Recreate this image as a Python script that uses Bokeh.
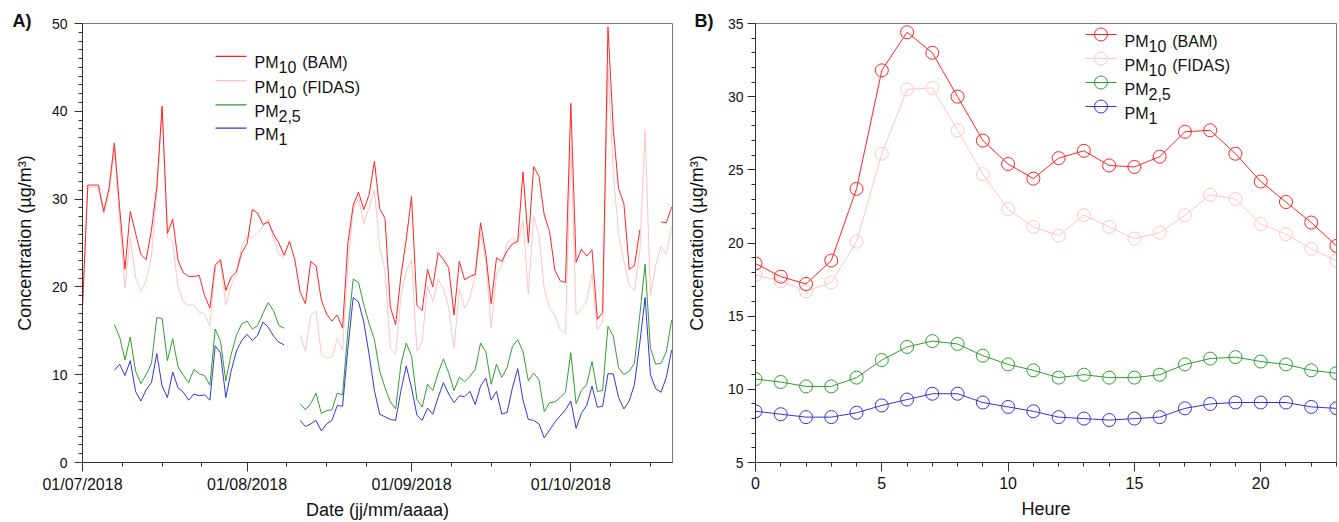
import numpy as np
import pandas as pd
from bokeh.plotting import figure
from bokeh.layouts import row
from bokeh.models import FixedTicker, Label, Range1d, Title
from bokeh.embed import file_html
from bokeh.resources import INLINE

# ---------------------------------------------------------------
# A) daily mean concentrations, 01/07/2018 - 20/10/2018 (None = no data)
# ---------------------------------------------------------------
dates = pd.date_range("2018-07-01", "2018-10-20", freq="D")

pm10_bam = [
    17.7, 31.6, 31.6, 31.6, 28.6, 31.2, 36.4, 29.0, 22.0, 28.6,
    26.1, 23.7, 23.1, 26.5, 31.4, 40.6, 26.1, 27.7, 23.0, 21.6,
    21.2, 21.2, 21.3, 19.0, 17.6, 22.5, 23.1, 19.6, 21.1, 21.7,
    23.9, 24.9, 28.8, 28.4, 27.1, 27.4, 26.0, 25.0, 23.6, 25.2,
    23.1, 19.4, 18.1, 22.9, 22.4, 18.5, 16.9, 16.1, 16.8, 15.3,
    25.0, 29.3, 30.8, 28.8, 30.5, 34.3, 28.9, 27.8, 17.7, 15.7,
    21.3, 25.4, 30.3, 17.9, 17.3, 22.0, 20.0, 23.9, 23.1, 22.2,
    16.8, 22.9, 20.8, 21.2, 21.4, 27.3, 23.7, 18.1, 23.3, 22.9,
    24.1, 24.9, 25.2, 33.1, 25.0, 33.7, 32.6, 28.2, 26.3, 21.9,
    20.7, 20.5, 40.9, 22.8, 24.3, 23.5, 24.2, 16.3, 17.1, 49.6,
    38.0, 31.2, 29.5, 22.0, 22.4, 26.5, None, None, None, 27.4,
    27.3, 29.1,
]
pm10_fidas = [
    17.4, 31.3, 31.4, 31.3, 28.3, 30.8, 35.8, 27.5, 19.9, 25.6,
    21.1, 19.5, 20.7, 23.5, 31.0, 40.1, 25.6, 25.0, 20.0, 18.3,
    17.9, 18.0, 17.1, 17.0, 15.5, 22.2, 22.9, 17.9, 20.2, 21.5,
    24.7, 25.8, 25.6, 26.1, 26.9, 27.7, 25.4, 23.7, 23.3, None,
    None, 14.5, 12.7, 16.8, 17.3, 12.3, 11.9, 12.0, 14.1, 12.8,
    22.5, 28.8, 30.1, 27.2, 29.0, 31.0, 24.6, 21.8, 13.0, 12.3,
    19.0, 21.8, 23.1, 12.7, 13.8, 20.1, 18.3, 20.9, 19.8, 17.6,
    13.0, 19.8, 17.6, 18.8, 21.3, 26.1, 22.8, 15.3, 21.5, 22.4,
    25.0, 25.6, 25.0, 27.5, 19.2, 28.0, 25.8, 19.8, 17.6, 16.8,
    15.1, 14.7, 36.0, 16.8, 17.5, 18.4, 21.5, 15.1, 16.0, 45.0,
    33.0, 26.0, 23.0, 20.2, 19.6, 24.0, 37.8, 19.0, 22.4, 24.6,
    23.7, 26.9,
]
pm25 = [
    None, None, None, None, None, None, 15.7, 14.3, 11.7, 14.3,
    10.4, 9.0, 10.0, 11.3, 16.5, 16.4, 11.6, 14.1, 10.9, 9.9,
    9.1, 10.6, 10.1, 9.9, 8.8, 15.2, 13.8, 9.3, 12.3, 14.5,
    15.8, 16.1, 15.2, 15.6, 17.0, 18.2, 17.3, 15.6, 15.3, None,
    None, 6.7, 6.0, 6.7, 7.9, 5.6, 5.9, 6.0, 7.9, 7.7,
    15.0, 20.9, 20.5, 18.0, 15.8, 14.0, 10.4, 8.5, 6.9, 6.1,
    11.2, 13.6, 12.1, 7.2, 6.3, 8.9, 8.2, 10.2, 11.8, 10.2,
    8.2, 9.7, 9.2, 9.8, 10.6, 13.6, 12.6, 8.9, 11.2, 9.7,
    10.8, 13.2, 14.0, 12.6, 9.3, 10.2, 9.4, 5.8, 6.8, 6.9,
    7.4, 8.0, 12.5, 6.7, 8.2, 8.9, 11.5, 8.1, 8.2, 15.5,
    14.4, 10.8, 10.0, 10.4, 11.3, 16.8, 22.6, 13.0, 11.2, 11.3,
    12.6, 16.2,
]
pm1 = [
    None, None, None, None, None, None, 10.5, 11.2, 9.9, 11.6,
    8.1, 7.0, 8.3, 9.1, 12.4, 8.7, 7.4, 10.3, 8.5, 8.0,
    7.1, 7.8, 7.6, 7.7, 7.1, 13.3, 12.5, 7.4, 10.4, 12.7,
    13.9, 14.6, 13.9, 14.5, 16.0, 15.4, 14.4, 13.7, 13.4, None,
    None, 4.8, 4.1, 4.4, 4.8, 3.6, 4.4, 4.8, 6.5, 6.4,
    13.0, 18.8, 18.3, 16.0, 12.3, 8.2, 5.5, 5.2, 4.9, 4.8,
    8.2, 11.0, 8.5, 5.4, 4.8, 6.2, 5.5, 7.4, 9.1, 7.8,
    6.8, 7.6, 7.5, 8.1, 6.6, 8.7, 9.6, 7.1, 8.1, 5.5,
    5.7, 8.5, 10.7, 7.1, 4.9, 4.8, 4.4, 2.8, 3.7, 4.6,
    5.3, 6.0, 7.0, 3.9, 5.6, 6.5, 8.7, 6.3, 6.4, 10.1,
    10.1, 7.4, 6.1, 7.0, 8.9, 13.6, 18.8, 10.0, 8.4, 8.0,
    9.7, 12.8,
]
month_starts = ["2018-07-01", "2018-08-01", "2018-09-01", "2018-10-01"]
month_labels = ["01/07/2018", "01/08/2018", "01/09/2018", "01/10/2018"]

# ---------------------------------------------------------------
# B) mean daily profile (hour of day)
# ---------------------------------------------------------------
hours = list(range(24))
prof_bam = [18.6, 17.7, 17.2, 18.8, 23.7, 31.8, 34.4, 33.0, 30.0, 27.0, 25.4, 24.4,
            25.8, 26.3, 25.3, 25.2, 25.9, 27.6, 27.7, 26.1, 24.2, 22.8, 21.4, 19.8]
prof_fidas = [17.8, 17.4, 16.7, 17.3, 20.1, 26.1, 30.5, 30.6, 27.7, 24.7, 22.3, 21.1,
              20.5, 21.9, 21.1, 20.3, 20.7, 21.9, 23.3, 23.0, 21.3, 20.6, 19.6, 18.8]
prof_pm25 = [10.7, 10.5, 10.2, 10.2, 10.8, 12.0, 12.9, 13.3, 13.1, 12.3, 11.7, 11.3,
             10.8, 11.0, 10.8, 10.8, 11.0, 11.7, 12.1, 12.2, 11.9, 11.7, 11.3, 11.1]
prof_pm1 = [8.5, 8.3, 8.1, 8.1, 8.4, 8.9, 9.3, 9.7, 9.7, 9.1, 8.8, 8.5,
            8.1, 8.0, 7.9, 8.0, 8.1, 8.7, 9.0, 9.1, 9.1, 9.1, 8.8, 8.7]

# ---------------------------------------------------------------
# styling
# ---------------------------------------------------------------
FONT = "Liberation Sans"
C_BAM, C_FIDAS, C_PM25, C_PM1 = "#ff2424", "#ffc4c4", "#2ea02e", "#3434dc"
AXIS_C = "#303030"
FRAME_C = "#7a7a7a"
H = 522

# A frame (canvas pixels)
A_W, A_L, A_R, A_T, A_B = 680, 82, 672, 21, 466
A_PX_DAY = (570.3 - 82) / 92.0
A_X1 = (A_R - A_L) / A_PX_DAY
A_PX_UNIT = (A_B - A_T) / 50.0

# B frame (canvas pixels, relative to figure B)
B_W = 1339 - A_W
B_L, B_R, B_T, B_B = 755 - A_W, 1336 - A_W, 23, 462
B_PX_H = (B_R - B_L) / 23.0
B_PX_UNIT = (B_B - B_T) / 30.0


def a_data(sx, sy):
    return (sx - A_L) / A_PX_DAY, (A_B - sy) / A_PX_UNIT


def b_data(sx, sy):
    return (sx - B_L) / B_PX_H, 35 - (sy - B_T) / B_PX_UNIT


ARIAL = {"P": .667, "M": .833, ",": .278, " ": .278}


def text_w(s, size):
    return sum(ARIAL.get(c, .556) for c in s) * size


def style_axes(p, xfont, yfont):
    for ax in (p.xaxis[0], p.yaxis[0]):
        ax.axis_line_color = AXIS_C
        ax.major_tick_line_color = AXIS_C
        ax.minor_tick_line_color = AXIS_C
        ax.major_tick_in = 0
        ax.major_tick_out = 8
        ax.minor_tick_in = 0
        ax.minor_tick_out = 4
        ax.major_label_text_font = FONT
        ax.major_label_text_color = "#111111"
        ax.axis_label_text_font = FONT
        ax.axis_label_text_font_size = "18px"
        ax.axis_label_text_font_style = "normal"
        ax.axis_label_text_color = "#111111"
    p.xaxis.major_label_text_font_size = xfont
    p.yaxis.major_label_text_font_size = yfont
    p.xaxis.major_tick_out = 9
    p.xgrid.visible = False
    p.ygrid.visible = False
    p.outline_line_color = FRAME_C
    p.outline_line_width = 1


def panel_tag(text, frame_left, x_left):
    # bold panel letter drawn in the title slot, shifted left over the axis area
    return Title(text=text, align="left", offset=x_left - frame_left, standoff=-15,
                 vertical_align="bottom", text_font=FONT, text_font_size="18px",
                 text_font_style="bold", text_color="#111111")


def legend_entry(p, conv, x_line0, x_line1, x_text, y, color, parts, marker=False):
    (x0, yd), (x1, _) = conv(x_line0, y), conv(x_line1, y)
    p.segment(x0=[x0], y0=[yd], x1=[x1], y1=[yd], line_color=color, line_width=1.2)
    if marker:
        xm, _ = conv((x_line0 + x_line1) / 2, y)
        p.scatter([xm], [yd], marker="circle", size=13, fill_color=None,
                  line_color=color, line_width=1)
    main, sub, tail = parts
    size = 16
    base = y + 6.7
    xs = x_text
    for txt, dy in ((main, 0), (sub, 4.5), (tail, 0)):
        if not txt:
            continue
        lx, ly = conv(xs, base + dy)
        p.add_layout(Label(x=lx, y=ly, text=txt, text_font=FONT,
                           text_font_size=f"{size}px", text_color="#111111",
                           text_align="left", text_baseline="alphabetic"))
        xs += text_w(txt, size) + (text_w(" ", size) + 1.5 if txt == sub else 0)


legend_parts = [("PM", "10", "(BAM)"), ("PM", "10", "(FIDAS)"),
                ("PM", "2,5", ""), ("PM", "1", "")]
colors = [C_BAM, C_FIDAS, C_PM25, C_PM1]

# ---------------------------------------------------------------
# Panel A
# ---------------------------------------------------------------
day = np.asarray((dates - dates[0]).days, dtype=float)
tick_days = [(pd.Timestamp(m) - dates[0]).days for m in month_starts]
minor_days = [t + k * 7.5 for t in tick_days for k in (1, 2, 3) if t + k * 7.5 <= A_X1]

pa = figure(width=A_W, height=H, output_backend="svg", toolbar_location=None,
            x_range=Range1d(0, A_X1), y_range=Range1d(0, 50),
            min_border_left=A_L, min_border_right=A_W - A_R,
            min_border_top=A_T, min_border_bottom=H - A_B)
pa.title = panel_tag("A)", A_L, 12)
style_axes(pa, "16px", "14px")
pa.xaxis.ticker = FixedTicker(ticks=tick_days, minor_ticks=minor_days)
pa.xaxis.major_label_overrides = {t: lab for t, lab in zip(tick_days, month_labels)}
pa.yaxis.ticker = FixedTicker(ticks=list(range(0, 51, 10)), minor_ticks=list(range(0, 51)))
pa.xaxis.axis_label = "Date (jj/mm/aaaa)"
pa.yaxis.axis_label = "Concentration (µg/m³)"
pa.xaxis.major_label_standoff = 4
pa.xaxis.axis_label_standoff = 4
pa.yaxis.major_label_standoff = 7
pa.yaxis.axis_label_standoff = 14

for series, col in ((pm10_fidas, C_FIDAS), (pm10_bam, C_BAM), (pm25, C_PM25), (pm1, C_PM1)):
    pa.line(day, np.array(series, dtype=float), line_color=col, line_width=1)

for i, (parts, col) in enumerate(zip(legend_parts, colors)):
    legend_entry(pa, a_data, 215, 246, 254, [54.3, 79.0, 103.5, 127.0][i], col, parts)

# ---------------------------------------------------------------
# Panel B
# ---------------------------------------------------------------
pb = figure(width=B_W, height=H, output_backend="svg", toolbar_location=None,
            x_range=Range1d(0, 23), y_range=Range1d(5, 35),
            min_border_left=B_L, min_border_right=B_W - B_R,
            min_border_top=B_T, min_border_bottom=H - B_B)
pb.title = panel_tag("B)", B_L, 694 - A_W)
style_axes(pb, "16px", "14px")
pb.xaxis.ticker = FixedTicker(ticks=[0, 5, 10, 15, 20], minor_ticks=list(range(0, 24)))
pb.yaxis.ticker = FixedTicker(ticks=list(range(5, 36, 5)), minor_ticks=list(range(5, 36)))
pb.xaxis.axis_label = "Heure"
pb.yaxis.axis_label = "Concentration (µg/m³)"
pb.xaxis.major_label_standoff = 5
pb.xaxis.axis_label_standoff = 7
pb.yaxis.major_label_standoff = 4
pb.yaxis.axis_label_standoff = 18

for series, col in ((prof_fidas, C_FIDAS), (prof_bam, C_BAM), (prof_pm25, C_PM25), (prof_pm1, C_PM1)):
    pb.line(hours, series, line_color=col, line_width=1)
    pb.scatter(hours, series, marker="circle", size=13, fill_color=None,
               line_color=col, line_width=1)

for i, (parts, col) in enumerate(zip(legend_parts, colors)):
    legend_entry(pb, b_data, 1085 - A_W, 1116 - A_W, 1124 - A_W,
                 [34.0, 58.0, 82.0, 106.0][i], col, parts, marker=True)

layout = row(pa, pb)
open("out.html", "w").write(file_html(layout, INLINE))
